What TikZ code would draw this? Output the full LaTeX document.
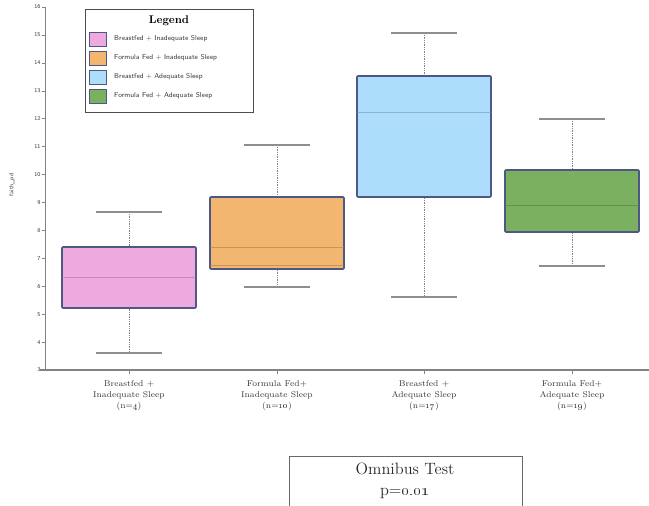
\documentclass[tikz,border=0pt]{standalone}
\usepackage{tikz}
\usetikzlibrary{positioning}
\usepackage{xcolor}
\definecolor{bfin}{RGB}{238,170,222}
\definecolor{ffin}{RGB}{242,182,112}
\definecolor{bfad}{RGB}{172,221,250}
\definecolor{ffad}{RGB}{122,176,96}
\definecolor{edge}{RGB}{78,88,132}
\definecolor{axis}{RGB}{130,130,130}
\definecolor{txt}{RGB}{55,55,55}

\begin{document}
\begin{tikzpicture}[
  x=0.03cm, y=-0.03cm, >=latex,
  box/.style={draw=edge, line width=1.4pt, rounded corners=0.8pt},
  whisk/.style={draw=axis, densely dotted, line width=0.5pt},
  whiskcap/.style={draw=axis!90, line width=1.1pt},
  ticklab/.style={font=\sffamily\fontsize{5}{6}\selectfont, text=txt, inner sep=1pt},
  cat/.style={align=center, font=\fontsize{7.2}{9.4}\selectfont, text=txt},
  entry/.style={font=\sffamily\fontsize{6}{7}\selectfont, text=txt, anchor=west, inner sep=0pt},
]
\useasboundingbox (0,0) rectangle (649,505);

% axes
\draw[axis, line width=0.6pt] (45,7) -- (45,370);
\draw[axis, line width=1.2pt] (40,370) -- (649,370);
\foreach \v in {3,...,16}{
  \draw[axis, line width=0.5pt] (42,{370-(\v-3)*27.92}) -- (45,{370-(\v-3)*27.92});
  \node[ticklab, left] (t\v) at (42,{370-(\v-3)*27.92}) {\v};
}
\node[rotate=90, ticklab] (ylab) at (12,185) {faith\_pd};

% boxes: centre / top whisker / q3 / median / q1 / bottom whisker / colour
\foreach \cx/\wt/\qt/\md/\qb/\wb/\fc [count=\i] in
  {129/212/247/277/308/353/bfin, 277/145/197/247/269/287/ffin,
   424/33/76/112/197/297/bfad, 572/119/170/205/232/266/ffad}{
  \draw[whisk] (\cx,\wt) -- (\cx,\wb);
  \draw[whiskcap] (\cx-33,\wt) -- (\cx+33,\wt);
  \draw[whiskcap] (\cx-33,\wb) -- (\cx+33,\wb);
  \filldraw[box, fill=\fc] (\cx-67,\qt) rectangle (\cx+67,\qb);
  \draw[\fc!70!black, line width=0.7pt, opacity=0.6] (\cx-67,\md) -- (\cx+67,\md);
  \draw[axis, line width=0.5pt] (\cx,370) -- (\cx,374);
}
\draw[ffin!70!black, line width=0.7pt, opacity=0.6] (210,265) -- (344,265);

% category labels
\node[cat] (c1) at (129,396) {Breastfed +\\Inadequate Sleep\\(n=\oldstylenums{4})};
\node[cat] (c2) at (277,396) {Formula Fed+\\Inadequate Sleep\\(n=\oldstylenums{10})};
\node[cat] (c3) at (424,396) {Breastfed +\\Adequate Sleep\\(n=\oldstylenums{17})};
\node[cat] (c4) at (572,396) {Formula Fed+\\Adequate Sleep\\(n=\oldstylenums{19})};

% legend
\draw[axis!60!black, line width=0.6pt, fill=white] (85,9) rectangle (253,112);
\node[font=\bfseries\fontsize{9.5}{10}\selectfont] (leg) at (169,21) {Legend};
\foreach \fc/\lab [count=\i] in {bfin/Breastfed + Inadequate Sleep,
  ffin/Formula Fed + Inadequate Sleep, bfad/Breastfed + Adequate Sleep,
  ffad/Formula Fed + Adequate Sleep}{
  \filldraw[draw=edge, line width=0.8pt, fill=\fc] (89,{32+(\i-1)*19}) rectangle (106,{46+(\i-1)*19});
  \node[entry] (e\i) at (114,{39+(\i-1)*19}) {\lab};
}

% omnibus
\draw[axis!80!black, line width=0.6pt] (289,508) -- (289,456) -- (522,456) -- (522,508);
\node[align=center, font=\fontsize{14}{17.5}\selectfont, text=txt!70!black] (omni) at (405,481)
  {Omnibus Test\\p=\oldstylenums{0.01}};
\end{tikzpicture}
\end{document}
